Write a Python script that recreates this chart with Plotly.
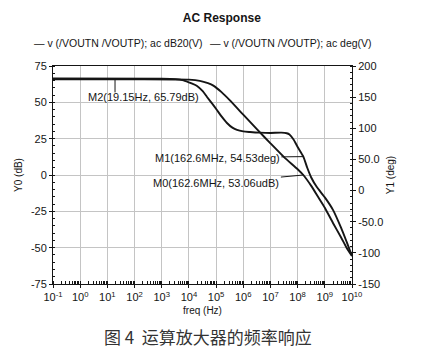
import math
import plotly.graph_objects as go

# ---- data ----
# magnitude, dB  (x as log10 of frequency in Hz)
mag_logf = [-1, 1.28, 3.5, 4.0, 4.4, 4.7, 4.9, 5.2, 5.5, 6.0, 6.5, 7.0, 7.5, 8.0, 8.21,
            8.5, 8.75, 9.0, 9.3, 9.6, 9.8, 10.0]
mag_db = [65.79, 65.79, 65.75, 65.6, 64.8, 63.2, 61.5, 57.0, 51.5, 41.5, 31.5, 21.8, 12.3, 4.0, 0.0,
          -7.5, -15.0, -22.5, -33.0, -43.0, -50.0, -55.8]
# phase, deg
ph_logf = [-1, 3.0, 3.5, 3.8, 4.1, 4.3, 4.5, 4.66, 4.85, 5.03, 5.2, 5.4, 5.6, 5.77, 6.0, 6.25,
           6.6, 7.0, 7.4, 7.6, 7.7, 7.85, 8.0, 8.21, 8.35, 8.5, 8.7, 9.0, 9.3, 9.6, 9.8, 10.0]
ph_deg = [180, 179.8, 179, 177, 172, 168, 160, 150.7, 140, 129.4, 119, 108.5, 101, 97.3, 95, 94,
          93, 92.5, 93, 92, 90, 82, 70, 54.53, 37, 21, 6, -11, -31, -60, -82, -105]

x_exps = list(range(-1, 11))
x_ticktext = [f"10<sup>{e}</sup>" for e in x_exps]
y0_ticks = [75, 50, 25, 0, -25, -50, -75]
y0_text = ["75", "50", "25", "0", "-25", "-50", "-75"]
y1_ticks = [200, 150, 100, 50, 0, -50, -100, -150]
y1_text = ["200", "150", "100", "50.0", "0", "-50.0", "-100", "-150"]

legend_names = ["v (/VOUTN /VOUTP); ac dB20(V)", "v (/VOUTN /VOUTP); ac deg(V)"]

# markers
m2_f, m2_db = 19.15, 65.79
m_f = 162.6e6
m1_deg = 54.53
m0_label = "M0(162.6MHz, 53.06udB)"
m0_db = 0.0

FONT = "Liberation Sans, Arial, sans-serif"
INK = "#151515"

mag_f = [10 ** v for v in mag_logf]
ph_f = [10 ** v for v in ph_logf]

fig = go.Figure()
fig.add_trace(go.Scatter(x=mag_f, y=mag_db, mode="lines", name=legend_names[0],
                         line=dict(color=INK, width=1.9, shape="spline", smoothing=0.6),
                         showlegend=False, yaxis="y"))
fig.add_trace(go.Scatter(x=ph_f, y=ph_deg, mode="lines", name=legend_names[1],
                         line=dict(color=INK, width=1.9, shape="spline", smoothing=0.6),
                         showlegend=False, yaxis="y2"))

afont = dict(family=FONT, size=11, color=INK)
# M2 leader (vertical tick under the curve)
fig.add_shape(type="line", xref="x", yref="y", xsizemode="scaled", ysizemode="pixel",
              yanchor=m2_db, x0=m2_f, x1=m2_f, y0=0, y1=-13,
              line=dict(color=INK, width=1))
fig.add_annotation(x=math.log10(m2_f), y=m2_db, xref="x", yref="y",
                   text=f"M2({m2_f}Hz, {m2_db}dB)", showarrow=True, arrowcolor="rgba(0,0,0,0)",
                   ax=28, ay=18, font=afont)
fig.add_annotation(x=math.log10(m_f), y=m1_deg, xref="x", yref="y2",
                   text=f"M1(162.6MHz, {m1_deg}deg)", showarrow=True, arrowhead=0,
                   arrowwidth=1, arrowcolor=INK, ax=-86, ay=1, font=afont)
fig.add_annotation(x=math.log10(m_f), y=m0_db, xref="x", yref="y",
                   text=m0_label, showarrow=True, arrowhead=0,
                   arrowwidth=1, arrowcolor=INK, ax=-87, ay=8, font=afont)

# legend text (drawn as annotations to match the compact look)
lfont = dict(family=FONT, size=10.5, color=INK)
fig.add_annotation(x=-0.070, y=1.106, xref="paper", yref="paper", xanchor="left",
                   yanchor="middle", showarrow=False, text="\u2014 " + legend_names[0], font=lfont)
fig.add_annotation(x=0.518, y=1.106, xref="paper", yref="paper", xanchor="left",
                   yanchor="middle", showarrow=False, text="\u2014 " + legend_names[1], font=lfont)

# caption
fig.add_annotation(x=0.518, y=-0.243, xref="paper", yref="paper", xanchor="center",
                   yanchor="middle", showarrow=False, text="图 4  运算放大器的频率响应",
                   font=dict(family="Noto Sans CJK SC", size=17, color="#333333"))

fig.update_layout(
    width=425, height=354,
    margin=dict(l=53, r=73, t=66, b=70),
    paper_bgcolor="white", plot_bgcolor="white",
    font=dict(family=FONT, size=11, color=INK),
    title=dict(text="<b>AC Response</b>", x=0.522, xanchor="center", y=0.949, yanchor="middle",
               font=dict(family=FONT, size=12, color=INK)),
    xaxis=dict(type="log", range=[-1, 10], tickvals=[10 ** e for e in x_exps],
               ticktext=x_ticktext, showgrid=True, gridcolor="#c4c4c4", gridwidth=1,
               showline=True, linecolor=INK, linewidth=1, mirror=True,
               ticks="outside", ticklen=3, tickcolor=INK, tickfont=dict(size=11),
               minor=dict(ticks="inside", ticklen=3, dtick="D1", tickcolor=INK, showgrid=False),
               title=dict(text="freq (Hz)", font=dict(size=10), standoff=4),
               zeroline=False),
    yaxis=dict(range=[-75, 75], tickvals=y0_ticks, ticktext=y0_text, showgrid=True,
               gridcolor="#c4c4c4", gridwidth=1, showline=True, linecolor=INK, linewidth=1,
               ticks="outside", ticklen=3, tickcolor=INK, zeroline=False,
               minor=dict(ticks="inside", ticklen=2, dtick=5, tickcolor=INK, showgrid=False),
               title=dict(text="Y0 (dB)", font=dict(size=10), standoff=6)),
    yaxis2=dict(range=[-150, 200], tickvals=y1_ticks, ticktext=y1_text, overlaying="y",
                side="right", showgrid=False, showline=True, linecolor=INK, linewidth=1,
                ticks="outside", ticklen=3, tickcolor=INK, zeroline=False,
                minor=dict(ticks="inside", ticklen=2, dtick=10, tickcolor=INK),
                title=dict(text="Y1 (deg)", font=dict(size=10), standoff=4)),
)

fig.write_html("out.html")
